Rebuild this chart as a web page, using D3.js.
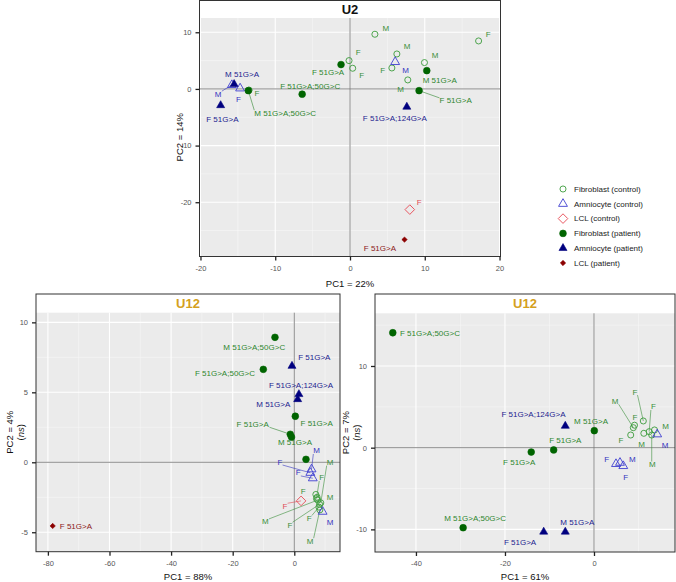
<!DOCTYPE html>
<html><head><meta charset="utf-8">
<script src="https://cdn.jsdelivr.net/npm/d3@7"></script>
<style>
body{margin:0;background:#fff}
svg{display:block}
text{font-family:"Liberation Sans",Arial,sans-serif}
</style>
</head><body>
<svg id="chart" width="676" height="582"></svg>
<script>
// ---------- DATA ----------
const groupKeys = ["FC","AC","LC","FP","AP","LP"];
const legendNames = ["Fibroblast (control)","Amniocyte (control)","LCL (control)","Fibroblast (patient)","Amniocyte (patient)","LCL (patient)"];

// [group, PC1, PC2, label, label PC1, label PC2]
const u2Points = [
 ["FC",-13.5,-0.2,"F",-12.44,-0.76],
 ["FC",-0.13,5.0,"F",1.11,6.47],
 ["FC",0.36,3.65,"F",1.56,2.47],
 ["FC",3.33,9.65,"M",4.8,10.7],
 ["FC",17.2,8.47,"F",18.49,9.7],
 ["FC",6.27,6.17,"M",7.64,7.46],
 ["FC",5.6,3.7,"F",4.36,3.23],
 ["FC",7.73,1.59,"M",6.76,-0.05],
 ["FC",9.96,4.65,"M",11.37,5.94],
 ["AC",-15.8,0.7,"M",-17.64,-0.88],
 ["AC",-14.7,0.1,"F",-14.93,-1.76],
 ["AC",6.04,4.76,"M",7.43,3.35],
 ["LC",8.0,-21.3,"F",9.24,-19.98],
 ["FP",-13.6,-0.3,"M 51G>A;50G>C",-8.67,-4.23],
 ["FP",-6.4,-0.93,"F 51G>A;50G>C",-5.33,0.53],
 ["FP",-1.2,4.3,"F 51G>A",-2.93,2.87],
 ["FP",10.27,3.23,"M 51G>A",12.0,1.46],
 ["FP",9.24,-0.3,"F 51G>A",14.13,-2.06],
 ["AP",-15.5,0.83,"M 51G>A",-14.44,2.65],
 ["AP",-17.3,-2.9,"F 51G>A",-17.07,-5.29],
 ["AP",7.6,-3.17,"F 51G>A;124G>A",6.0,-5.17],
 ["LP",7.29,-26.6,"F 51G>A",4.0,-28.1]
];

const u12aPoints = [
 ["FC",7.0,-2.3,"F",2.92,-2.1],
 ["FC",7.4,-2.5,"M",11.6,-2.46],
 ["FC",8.6,-2.9,"M",11.6,0.0],
 ["FC",7.2,-2.6,"F",8.9,-1.1],
 ["FC",7.6,-2.7,"M",-9.4,-4.24],
 ["FC",8.2,-3.0,"F",-1.4,-4.48],
 ["FC",8.0,-3.2,"F",4.87,-4.0],
 ["FC",8.3,-3.4,"M",5.1,-5.62],
 ["AC",5.6,-0.5,"M",7.27,0.83],
 ["AC",5.2,-0.75,"F",-4.64,0.04],
 ["AC",6.0,-1.14,"F",1.3,-0.74],
 ["AC",9.2,-3.53,"M",11.6,-4.31],
 ["LC",2.2,-2.76,"F",-3.0,-3.12],
 ["FP",-6.27,8.93,"M 51G>A;50G>C",-13.0,8.21],
 ["FP",-10.06,6.64,"F 51G>A;50G>C",-22.5,6.36],
 ["FP",0.33,3.29,"F 51G>A",7.27,2.79],
 ["FP",-1.3,2.0,"F 51G>A",-13.5,2.74],
 ["FP",-0.9,1.8,"M 51G>A",0.23,1.4],
 ["FP",3.8,0.21,"",3.8,0.21],
 ["AP",-0.75,6.88,"F 51G>A",6.49,7.5],
 ["AP",1.5,4.86,"F 51G>A;124G>A",2.18,5.52],
 ["AP",1.1,4.5,"M 51G>A",-6.82,4.16],
 ["LP",-78.44,-4.55,"F 51G>A",-70.9,-4.55]
];

const u12bPoints = [
 ["FC",8.83,2.45,"M",4.72,5.72],
 ["FC",11.08,3.27,"F",9.21,6.85],
 ["FC",12.4,1.96,"F",13.33,5.02],
 ["FC",9.1,2.75,"F",9.21,3.75],
 ["FC",13.6,2.17,"M",16.1,2.66],
 ["FC",8.25,1.55,"F",6.07,0.94],
 ["FC",11.2,1.76,"M",10.72,0.45],
 ["FC",12.97,1.55,"M",13.1,-2.03],
 ["AC",4.94,-1.99,"F",2.85,-1.42],
 ["AC",5.84,-1.84,"M",8.6,-1.42],
 ["AC",6.58,-2.24,"F",7.12,-3.67],
 ["AC",14.2,1.64,"M",15.96,0.33],
 ["FP",-45.2,14.07,"F 51G>A;50G>C",-36.85,14.07],
 ["FP",0.07,2.08,"M 51G>A",-0.67,3.27],
 ["FP",-14.1,-0.53,"F 51G>A",-16.8,-1.79],
 ["FP",-9.06,-0.28,"F 51G>A",-6.45,0.94],
 ["FP",-29.4,-9.8,"M 51G>A;50G>C",-26.7,-8.64],
 ["AP",-6.45,2.66,"F 51G>A;124G>A",-13.6,4.12],
 ["AP",-11.3,-10.3,"F 51G>A",-16.6,-11.54],
 ["AP",-6.45,-10.3,"M 51G>A",-3.75,-9.18]
];

// axis limits and breaks
const u2XDomain = [-20.13, 20.13], u2YDomain = [-29.58, 12.52];
const u2XTicks = [-20,-10,0,10,20], u2YTicks = [-20,-10,0,10];
const u2XMinor = [-15,-5,5,15], u2YMinor = [-25,-15,-5,5];

const u12aXDomain = [-83.86, 14.84], u12aYDomain = [-6.39, 10.69];
const u12aXTicks = [-80,-60,-40,-20,0], u12aYTicks = [-5,0,5,10];
const u12aXMinor = [-70,-50,-30,-10,10], u12aYMinor = [-2.5,2.5,7.5];

const u12bXDomain = [-49.2, 18.2], u12bYDomain = [-12.77, 16.45];
const u12bXTicks = [-40,-20,0], u12bYTicks = [-10,0,10];
const u12bXMinor = [-30,-10,10], u12bYMinor = [-5,5,15];

// ---------- STYLE ----------
const sty = {
 FC:{shape:"circle", filled:false, col:"#3c9c3c", lab:"#3a8f3a", size:29},
 AC:{shape:"triangle", filled:false, col:"#3f3fd0", lab:"#3535c0", size:34},
 LC:{shape:"diamond", filled:false, col:"#e8505a", lab:"#e04a55", size:46},
 FP:{shape:"circle", filled:true, col:"#006400", lab:"#2f872f", size:36},
 AP:{shape:"triangle", filled:true, col:"#00007f", lab:"#23238f", size:28},
 LP:{shape:"diamond", filled:true, col:"#8b0000", lab:"#8b1a1a", size:14}
};
function symPath(k){
  const s = sty[k];
  const t = s.shape==="circle"?d3.symbolCircle:s.shape==="triangle"?d3.symbolTriangle:d3.symbolSquare;
  return d3.symbol().type(t).size(s.size)();
}
function drawSym(g,k,x,y){
  const s=sty[k];
  g.append("path").attr("d",symPath(k))
   .attr("transform",`translate(${x},${y})`+(s.shape==="diamond"?" rotate(45)":""))
   .attr("fill",s.filled?s.col:"none").attr("stroke",s.col).attr("stroke-width",s.filled?0.6:0.9);
}

const svg = d3.select("#chart");
const fmt = d => String(d);

function panel(cfg){
  const {L,T,G,R,B} = cfg.box; // frame left, frame top, grey top, right, bottom
  const x = d3.scaleLinear().domain(cfg.xd).range([L,R]);
  const y = d3.scaleLinear().domain(cfg.yd).range([B,G]);
  const g = svg.append("g");
  g.append("rect").attr("x",L).attr("y",T).attr("width",R-L).attr("height",G-T).attr("fill","#fff");
  g.append("rect").attr("x",L).attr("y",G).attr("width",R-L).attr("height",B-G).attr("fill","#ebebeb");
  // grids
  cfg.xm.forEach(v=>g.append("line").attr("x1",x(v)).attr("x2",x(v)).attr("y1",G).attr("y2",B).attr("stroke","#f7f7f7").attr("stroke-width",0.6));
  cfg.ym.forEach(v=>g.append("line").attr("y1",y(v)).attr("y2",y(v)).attr("x1",L).attr("x2",R).attr("stroke","#f7f7f7").attr("stroke-width",0.6));
  cfg.xt.forEach(v=>g.append("line").attr("x1",x(v)).attr("x2",x(v)).attr("y1",G).attr("y2",B).attr("stroke","#fff").attr("stroke-width",1.1));
  cfg.yt.forEach(v=>g.append("line").attr("y1",y(v)).attr("y2",y(v)).attr("x1",L).attr("x2",R).attr("stroke","#fff").attr("stroke-width",1.1));
  // zero lines
  g.append("line").attr("x1",x(0)).attr("x2",x(0)).attr("y1",G).attr("y2",B).attr("stroke","#7f7f7f").attr("stroke-width",0.9);
  g.append("line").attr("y1",y(0)).attr("y2",y(0)).attr("x1",L).attr("x2",R).attr("stroke","#7f7f7f").attr("stroke-width",0.9);
  // frame
  g.append("rect").attr("x",L).attr("y",T).attr("width",R-L).attr("height",B-T).attr("fill","none").attr("stroke","#333").attr("stroke-width",1);
  // axes
  const xa = g.append("g").attr("transform",`translate(0,${B})`).call(d3.axisBottom(x).tickValues(cfg.xt).tickFormat(fmt).tickSize(4).tickPadding(5));
  const ya = g.append("g").attr("transform",`translate(${L},0)`).call(d3.axisLeft(y).tickValues(cfg.yt).tickFormat(fmt).tickSize(4).tickPadding(4));
  [xa,ya].forEach(a=>{
    a.select(".domain").remove();
    a.selectAll(".tick line").attr("stroke","#222").attr("stroke-width",1.3);
    a.selectAll(".tick text").attr("fill","#555").attr("font-size",7.5).attr("font-family","Liberation Sans, Arial, sans-serif");
  });
  // strip title
  g.append("text").attr("x",(L+R)/2).attr("y",(T+G)/2).attr("dy","0.36em").attr("text-anchor","middle")
   .attr("font-weight","bold").attr("font-size",13).attr("fill",cfg.titleCol).text(cfg.title);
  // axis titles
  g.append("text").attr("x",cfg.xlab[0]).attr("y",cfg.xlab[1]).attr("text-anchor","middle").attr("font-size",9.5).attr("fill","#111").text(cfg.xTitle);
  const yt = g.append("text").attr("transform",`translate(${cfg.ylab[0]},${(G+B)/2}) rotate(-90)`).attr("text-anchor","middle").attr("font-size",9.5).attr("fill","#111");
  if(cfg.ns){
    yt.append("tspan").attr("x",0).attr("dy","-0.15em").text(cfg.yTitle);
    const t2 = yt.append("tspan").attr("x",0).attr("dy","1.2em");
    t2.append("tspan").text("(");
    t2.append("tspan").attr("font-style","italic").text("ns");
    t2.append("tspan").text(")");
  } else yt.text(cfg.yTitle);
  // points: labels + segments
  const lg = g.append("g"), sg = g.append("g"), pg = g.append("g");
  cfg.pts.forEach(p=>{
    const [k,px,py,lab,lx,ly] = p;
    if(!lab) return;
    const X=x(px), Y=y(py), LX=x(lx), LY=y(ly);
    const t = lg.append("text").attr("x",LX).attr("y",LY).attr("dy","0.35em").attr("text-anchor","middle")
      .attr("font-size",8).attr("fill",sty[k].lab).text(lab);
    const bb = t.node().getBBox();
    const cx = Math.max(bb.x, Math.min(X, bb.x+bb.width));
    const cy = Math.max(bb.y+1.5, Math.min(Y, bb.y+bb.height-1.5));
    const d = Math.hypot(cx-X, cy-Y);
    if(d>11){
      sg.append("line").attr("x1",X).attr("y1",Y).attr("x2",cx).attr("y2",cy)
        .attr("stroke",sty[k].lab).attr("stroke-width",0.6);
    }
  });
  cfg.pts.forEach(p=>drawSym(pg,p[0],x(p[1]),y(p[2])));
}

panel({box:{L:199.5,T:0.5,G:18,R:500.5,B:256.5}, xd:u2XDomain, yd:u2YDomain, xt:u2XTicks, yt:u2YTicks, xm:u2XMinor, ym:u2YMinor,
  title:"U2", titleCol:"#111", xTitle:"PC1 = 22%", yTitle:"PC2 = 14%", xlab:[350,287], ylab:[183,0], ns:false, pts:u2Points});
panel({box:{L:36,T:294,G:312.7,R:340,B:551.7}, xd:u12aXDomain, yd:u12aYDomain, xt:u12aXTicks, yt:u12aYTicks, xm:u12aXMinor, ym:u12aYMinor,
  title:"U12", titleCol:"#d4a020", xTitle:"PC1 = 88%", yTitle:"PC2 = 4%", xlab:[188,580], ylab:[14,0], ns:true, pts:u12aPoints});
panel({box:{L:375,T:294,G:313.3,R:675,B:552}, xd:u12bXDomain, yd:u12bYDomain, xt:u12bXTicks, yt:u12bYTicks, xm:u12bXMinor, ym:u12bYMinor,
  title:"U12", titleCol:"#d4a020", xTitle:"PC1 = 61%", yTitle:"PC2 = 7%", xlab:[525,580], ylab:[350,0], ns:true, pts:u12bPoints});

// legend
const leg = svg.append("g");
groupKeys.forEach((k,i)=>{
  const yy = 189 + i*14.8;
  drawSym(leg,k,563,yy);
  leg.append("text").attr("x",574).attr("y",yy).attr("dy","0.35em").attr("font-size",8).attr("fill","#222").text(legendNames[i]);
});
</script>
</body></html>
